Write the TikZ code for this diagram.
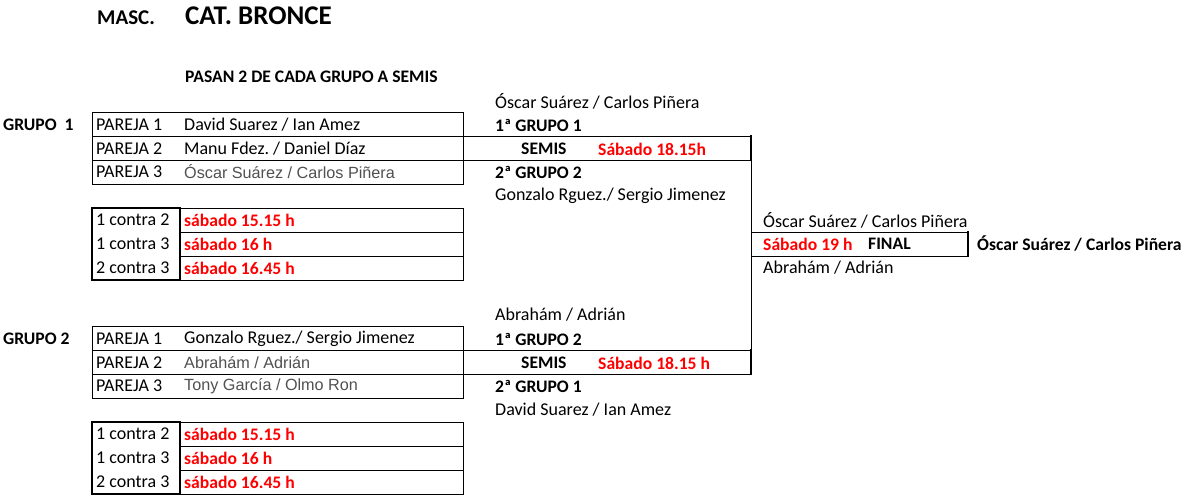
\documentclass[tikz,border=0pt]{standalone}
\usepackage{fontspec}
\setmainfont{Carlito}
\newfontfamily\arialf{Liberation Sans}
\definecolor{rd}{RGB}{255,0,0}
\definecolor{gr}{RGB}{80,80,80}
\frenchspacing
\begin{document}
\begin{tikzpicture}[x=1pt,y=-1pt,
  t/.style={anchor=west,inner sep=0pt,font=\fontsize{18}{20}\selectfont},
  tb/.style={t,font=\fontsize{17.6}{20}\selectfont\bfseries},
  tr/.style={tb,text=rd},
  tg/.style={t,text=gr,font=\fontsize{16.2}{19}\selectfont\arialf},
  ln/.style={line width=1pt},
  thk/.style={line width=2pt}]
\useasboundingbox (0,0) rectangle (1200,495);
\node[tb,font=\fontsize{21}{24}\selectfont\bfseries] (masc) at (97,18) {MASC.};
\node[tb,font=\fontsize{27}{30}\selectfont\bfseries] (cat) at (185,16) {CAT. BRONCE};
\node[tb] (pasan) at (185,77) {PASAN 2 DE CADA GRUPO A SEMIS};
% group blocks
\foreach \o/\g/\gl/\na/\nb/\nc/\ta/\tb/\sem/\top/\bot in {
  0/1/GRUPO~~1/David Suarez \slash{} Ian Amez/Manu Fdez. \slash{} Daniel Díaz/Óscar Suárez \slash{} Carlos Piñera/1ª GRUPO 1/2ª GRUPO 2/Sábado 18.15h/Óscar Suárez \slash{} Carlos Piñera/Gonzalo Rguez.\slash{} Sergio Jimenez,
  214/2/GRUPO 2/Gonzalo Rguez.\slash{} Sergio Jimenez/Abrahám \slash{} Adrián/Tony García \slash{} Olmo Ron/1ª GRUPO 2/2ª GRUPO 1/Sábado 18.15 h/Abrahám \slash{} Adrián/David Suarez \slash{} Ian Amez}{
  \begin{scope}[yshift=-\o]
  \node[tb] (g\g) at (3,125) {\gl};
  \draw[ln] (92,112) rectangle (463,184);
  \draw[ln] (92,136) -- (463,136) (92,160) -- (463,160);
  \node[t] (p\g a) at (96,125) {PAREJA 1};
  \node[t] (p\g b) at (96,149) {PAREJA 2};
  \node[t] (p\g c) at (96,172) {PAREJA 3};
  \node[t] (n\g a) at (184,125) {\na};
  \ifnum\g=1 \node[t] (n\g b) at (184,149) {\nb};
  \else \node[tg] (n\g b) at (184,149) {\nb};\fi
  \node[tg] (n\g c) at (184,172) {\nc};
  \draw[ln] (180,208) rectangle (463,280);
  \draw[ln] (180,232) -- (463,232) (180,256) -- (463,256);
  \draw[thk] (92,208) rectangle (180,280);
  \node[t] (c\g a) at (96,220) {1 contra 2};
  \node[t] (c\g b) at (96,244) {1 contra 3};
  \node[t] (c\g c) at (96,268) {2 contra 3};
  \node[tr] (s\g a) at (184,220) {sábado 15.15 h};
  \node[tr] (s\g b) at (184,244) {sábado 16 h};
  \node[tr] (s\g c) at (184,268) {sábado 16.45 h};
  \node[t] (w\g) at (495,101) {\top};
  \node[tb] (f\g) at (495,125) {\ta};
  \draw[ln] (463,136) -- (751,136) (463,160) -- (751,160);
  \draw[thk] (751,135) -- (751,161);
  \node[tb] (sm\g) at (521,149) {SEMIS};
  \node[tr] (st\g) at (598,149) {\sem};
  \node[tb] (q\g) at (495,172) {\tb};
  \node[t] (l\g) at (495,196) {\bot};
  \end{scope}}
\draw[ln] (751,136) -- (751,374);
\draw[ln] (751,232) -- (968,232) (751,256) -- (968,256);
\draw[thk] (968,231) -- (968,257);
\node[t] (fa) at (763,220) {Óscar Suárez / Carlos Piñera};
\node[tr] (fs) at (763,244) {Sábado 19 h};
\node[tb] (fn) at (868,244) {FINAL};
\node[tb] (win) at (977,244) {Óscar Suárez / Carlos Piñera};
\node[t] (fb) at (763,268) {Abrahám / Adrián};
\end{tikzpicture}
\end{document}
